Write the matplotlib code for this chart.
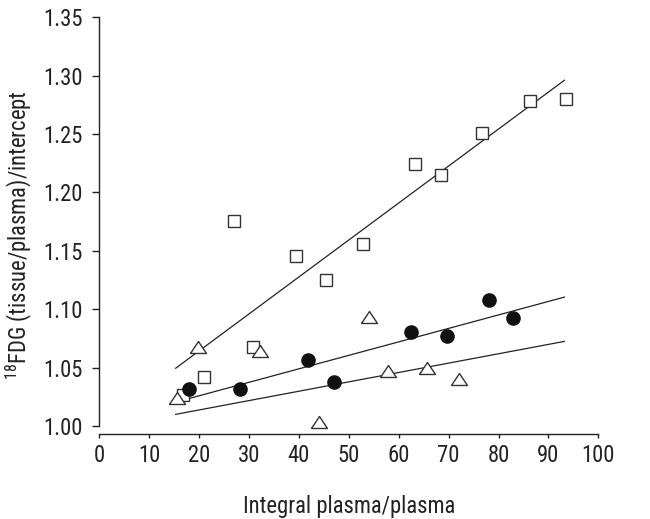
import matplotlib
matplotlib.use("Agg")
import matplotlib.pyplot as plt
import numpy as np

font = "Roboto Condensed"
plt.rcParams['font.family'] = [font, 'DejaVu Sans']
plt.rcParams['mathtext.fontset'] = 'custom'
plt.rcParams['mathtext.rm'] = font

# Squares
sq_x = [16.8, 21.0, 27.0, 30.7, 39.5, 45.5, 52.9, 63.3, 68.5, 76.7, 86.4, 93.5]
sq_y = [1.0265, 1.0422, 1.1758, 1.0676, 1.1455, 1.125, 1.1556, 1.2243, 1.2149, 1.2506, 1.2785, 1.2802]
# Filled circles
ci_x = [18.0, 28.2, 41.9, 47.1, 62.5, 69.7, 78.0, 83.0]
ci_y = [1.0317, 1.0317, 1.0562, 1.0374, 1.0802, 1.0768, 1.1076, 1.0922]
# Triangles
tr_x = [15.6, 19.8, 32.1, 44.0, 54.0, 57.8, 65.6, 72.1]
tr_y = [1.0237, 1.0673, 1.0645, 1.0037, 1.0936, 1.0473, 1.0494, 1.0402]

# Fit lines (intercept, slope) and x-range
fit_range = [15.3, 93.2]
sq_fit = (1.0010, 0.003166)
ci_fit = (1.0028, 0.001154)
tr_fit = (0.9977, 0.000802)

x_ticks = list(range(0, 101, 10))
y_ticks = [1.00, 1.05, 1.10, 1.15, 1.20, 1.25, 1.30, 1.35]

fig = plt.figure(figsize=(6.5, 5.19), dpi=100)
ax = fig.add_axes([0.1528, 0.1792, 0.9205 - 0.1528, 0.9667 - 0.1792])

lc = '#222222'
xs = np.array(fit_range)
for a, b in (sq_fit, ci_fit, tr_fit):
    ax.plot(xs, a + b * xs, color=lc, lw=0.9, zorder=1)

tri = [(-1, -0.75), (1, -0.75), (0, 0.75), (-1, -0.75)]
ax.plot(sq_x, sq_y, ls='none', marker='s', ms=8.8, mfc='white', mec='#333333', mew=1.0, zorder=3, clip_on=False)
ax.plot(tr_x, tr_y, ls='none', marker=tri, ms=11.5, mfc='white', mec='#333333', mew=1.0, zorder=3, clip_on=False)
ax.plot(ci_x, ci_y, ls='none', marker='o', ms=9.5, mfc='#111111', mec='#111111', zorder=4, clip_on=False)

ax.set_xlim(0, 100)
ax.set_ylim(1.0, 1.35)
ax.set_xticks(x_ticks)
ax.set_yticks(y_ticks)
ax.set_yticklabels([f"{v:.2f}" for v in y_ticks])
ax.spines['top'].set_visible(False)
ax.spines['right'].set_visible(False)
ax.spines['bottom'].set_position(('outward', 6))
for s in ('left', 'bottom'):
    ax.spines[s].set_color('#222222')
    ax.spines[s].set_linewidth(1.0)
ax.tick_params(axis='x', labelsize=16.3, colors='#222222', length=3, width=1.0, pad=4)
ax.tick_params(axis='y', labelsize=16.3, colors='#222222', length=5, width=1.0, pad=7)

ax.set_xlabel("Integral plasma/plasma", fontsize=16.3, color='#222222', labelpad=20)
ax.set_ylabel(r"$^{18}$FDG (tissue/plasma)/intercept", fontsize=16.3, color='#222222')
ax.yaxis.set_label_coords(-0.13, 0.467)

fig.savefig("out.png", dpi=100)
